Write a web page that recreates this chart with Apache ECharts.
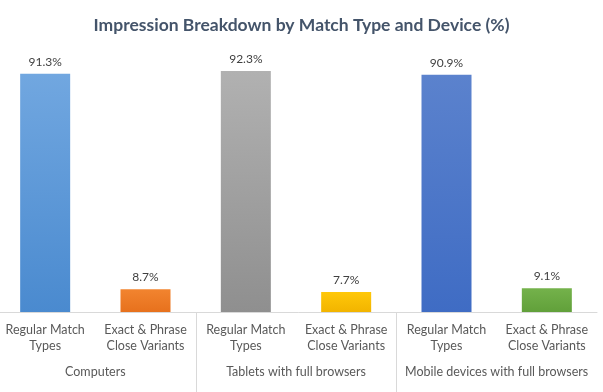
<!DOCTYPE html>
<html>
<head>
<meta charset="utf-8">
<script src="https://cdn.jsdelivr.net/npm/echarts@6/dist/echarts.min.js"></script>
<style>
html,body{margin:0;padding:0;background:#fff;}
#chart{width:603px;height:392px;}
</style>
</head>
<body>
<div id="chart"></div>
<script>
const titleText = 'Impression Breakdown by Match Type and Device (%)';
const subCategories = ['Regular Match\nTypes', 'Exact & Phrase\nClose Variants', 'Regular Match\nTypes', 'Exact & Phrase\nClose Variants', 'Regular Match\nTypes', 'Exact & Phrase\nClose Variants'];
const groupCategories = ['Computers', 'Tablets with full browsers', 'Mobile devices with full browsers'];
const values = [91.3, 8.7, 92.3, 7.7, 90.9, 9.1];
const groupBoundaries = [2, 4];
const barColors = [
  ['#71a7e0', '#4a8acf'],
  ['#f2842f', '#e7711d'],
  ['#b1b1b1', '#8f8f8f'],
  ['#ffc80a', '#f2b400'],
  ['#5b82cd', '#3f6cc4'],
  ['#74b24b', '#61a03a']
];

const chart = echarts.init(document.getElementById('chart'), null, {renderer: 'canvas'});
const font = 'Lato, "Open Sans", sans-serif';

chart.setOption({
  backgroundColor: '#ffffff',
  animation: false,
  title: {
    text: titleText,
    left: 'center',
    top: 11,
    textStyle: {fontFamily: font, fontSize: 17.5, fontWeight: 'bold', color: '#44546a'}
  },
  grid: {left: -5, right: 6, top: 51, bottom: 80, containLabel: false, outerBoundsMode: 'none'},
  xAxis: [
    {
      type: 'category',
      data: subCategories,
      position: 'bottom',
      axisLine: {show: true, lineStyle: {color: '#d9d9d9', width: 1}},
      axisTick: {show: false},
      axisLabel: {fontFamily: font, fontSize: 12.5, color: '#595959', lineHeight: 16, margin: 10, interval: 0}
    },
    {
      type: 'category',
      data: groupCategories,
      position: 'bottom',
      axisLine: {show: false},
      axisTick: {show: false},
      axisLabel: {fontFamily: font, fontSize: 12.5, color: '#595959', lineHeight: 16, margin: 52, interval: 0}
    },
    {
      type: 'value',
      min: 0,
      max: subCategories.length,
      show: false
    }
  ],
  yAxis: {
    type: 'value',
    min: 0,
    max: 100,
    show: false
  },
  series: [{
    type: 'bar',
    xAxisIndex: 0,
    barWidth: 50,
    data: values.map((v, i) => ({
      value: v,
      itemStyle: {
        color: new echarts.graphic.LinearGradient(0, 0, 0, 1, [
          {offset: 0, color: barColors[i][0]},
          {offset: 1, color: barColors[i][1]}
        ])
      }
    })),
    label: {
      show: true,
      position: 'top',
      distance: 6,
      formatter: p => p.value.toFixed(1) + '%',
      fontFamily: font,
      fontSize: 12,
      color: '#404040'
    }
  }, {
    type: 'custom',
    xAxisIndex: 2,
    yAxisIndex: 0,
    clip: false,
    silent: true,
    data: groupBoundaries,
    renderItem: (params, api) => {
      const p = api.coord([api.value(0), 0]);
      return {
        type: 'line',
        shape: {x1: Math.round(p[0]) + 0.5, y1: p[1], x2: Math.round(p[0]) + 0.5, y2: p[1] + 82},
        style: {stroke: '#d9d9d9', lineWidth: 1}
      };
    }
  }]
});
</script>
</body>
</html>
